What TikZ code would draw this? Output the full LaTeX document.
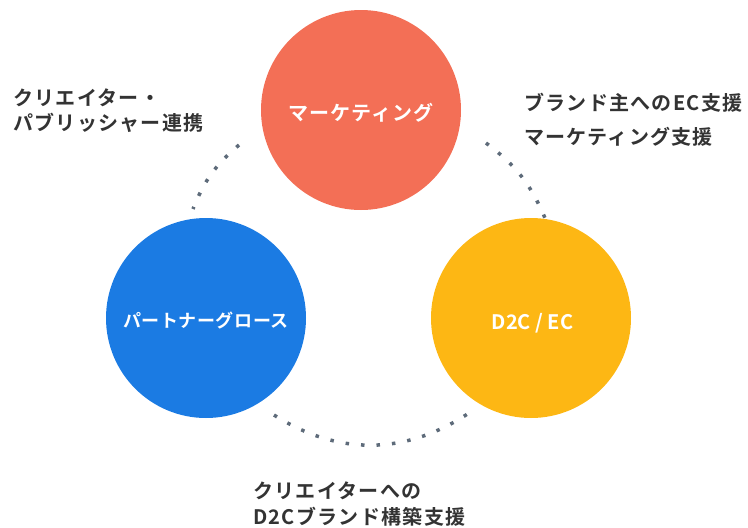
\documentclass[tikz,border=0pt]{standalone}
\usepackage{fontspec}
\setmainfont{Noto Sans CJK JP}[BoldFont={Noto Sans CJK JP Bold}]
\definecolor{mkcol}{HTML}{F36F56}
\definecolor{pgcol}{HTML}{1B7BE3}
\definecolor{eccol}{HTML}{FDB714}
\definecolor{txtcol}{HTML}{333333}
\definecolor{dotcol}{HTML}{5E6B7A}
\tikzset{
  bigcircle/.style={circle, inner sep=0pt, minimum size=200pt, fill=#1},
  intext/.style={inner sep=0pt, text=white,
    font=\bfseries\fontsize{18}{22}\selectfont\addfontfeature{LetterSpace=3}},
  lbl/.style={anchor=west, inner sep=0pt, text=txtcol,
    font=\bfseries\fontsize{20}{24}\selectfont\addfontfeature{LetterSpace=6.5}},
  dotline/.style={draw=dotcol, line width=3.5pt, dash pattern=on 3.5pt off 12pt}
}
\begin{document}
\begin{tikzpicture}[x=1pt,y=-1pt]
\useasboundingbox (0,0) rectangle (748,528);
% dotted arcs
\coordinate (ul1) at (239,145);
\coordinate (ul2) at (193,209);
\coordinate (ur1) at (486,143);
\coordinate (ur2) at (545,218);
\coordinate (b1) at (274,415);
\coordinate (b2) at (469,413);
\draw[dotline] (ul1) to[bend right=14] (ul2);
\draw[dotline] (ur1) to[bend left=15] (ur2);
\draw[dotline] (b1) to[bend right=33] (b2);
% circles
\node[bigcircle=mkcol] (mk) at (361,110) {};
\node[bigcircle=pgcol] (pg) at (206,318) {};
\node[bigcircle=eccol] (ec) at (531,318) {};
\node[intext, font=\bfseries\fontsize{20}{24}\selectfont\addfontfeature{LetterSpace=5}] (mkt) at ([yshift=-3pt]mk.center) {マーケティング};
\node[intext] (pgt) at ([yshift=-3pt]pg.center) {パートナーグロース};
\node[intext, font=\bfseries\fontsize{20}{24}\selectfont] (ect) at ([xshift=1.5pt,yshift=-5pt]ec.center) {D2C / EC};
% labels
\node[lbl] (l1a) at (13,98) {クリエイター・};
\node[lbl] (l1b) at (13,123) {パブリッシャー連携};
\node[lbl] (l2a) at (524,103) {ブランド主へのEC支援};
\node[lbl] (l2b) at (524,137) {マーケティング支援};
\node[lbl] (l3a) at (253,491) {クリエイターへの};
\node[lbl] (l3b) at (253,517) {D2Cブランド構築支援};
\end{tikzpicture}
\end{document}
